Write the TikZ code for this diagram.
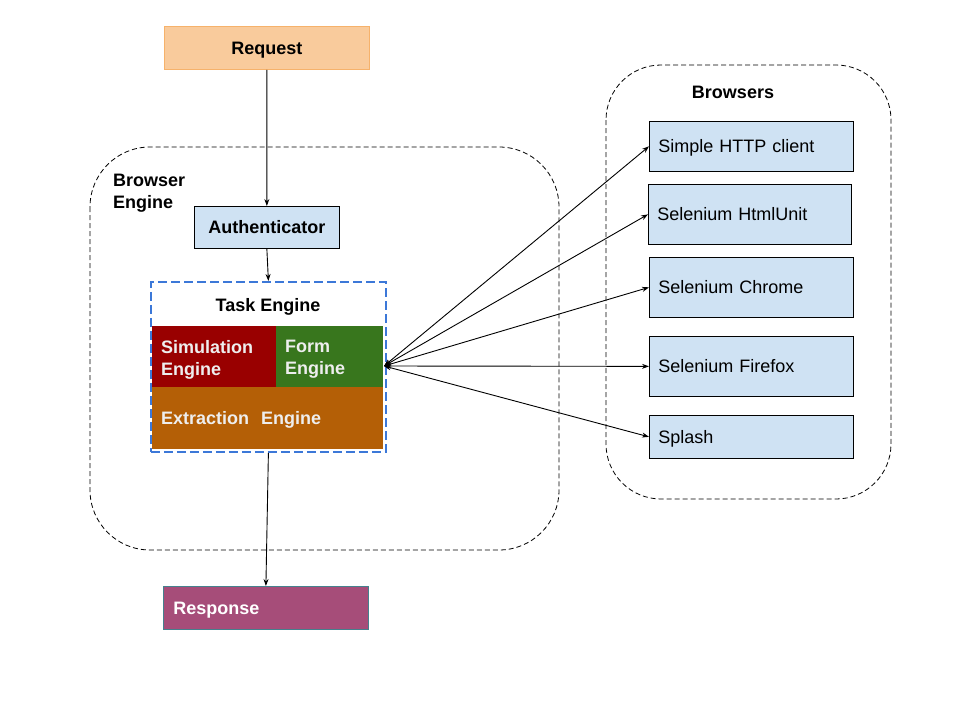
\documentclass[tikz,border=0pt]{standalone}
\usepackage{fontspec}
\setmainfont{Liberation Sans}
\usetikzlibrary{arrows.meta}
\definecolor{reqfill}{HTML}{F9CB9C}
\definecolor{reqline}{HTML}{F6B26B}
\definecolor{lblue}{HTML}{CFE2F3}
\definecolor{tblue}{HTML}{3C78D8}
\definecolor{simred}{HTML}{990000}
\definecolor{formgreen}{HTML}{38761D}
\definecolor{extorange}{HTML}{B45F06}
\definecolor{respfill}{HTML}{A64D79}
\definecolor{respline}{HTML}{45818E}
\definecolor{paletxt}{HTML}{EEEEEE}
\tikzset{
  x=1pt,y=-1pt,
  every node/.style={font=\fontsize{18}{22}\selectfont},
  boxbase/.style n args={2}{rectangle, anchor=north west, minimum width=#1, minimum height=#2, text width=#1-18pt, inner xsep=9pt, inner ysep=0pt, align=left, text depth=0pt},
  twoline/.style={text depth=20pt},
  bluebox/.style={fill=lblue, draw=black, line width=0.7pt},
  colbox/.style={draw=none, text=paletxt, font=\fontsize{18}{22}\selectfont\bfseries},
  group/.style={draw=black, dashed, dash pattern=on 5pt off 3pt, line width=0.8pt},
  conn/.style={line width=0.9pt, -{Stealth[length=7pt,width=5pt]}},
  biconn/.style={line width=0.9pt, {Stealth[length=7pt,width=5pt]}-{Stealth[length=7pt,width=5pt]}},
}
\begin{document}
\begin{tikzpicture}
\useasboundingbox (0,0) rectangle (960,720);
% groups
\draw[group, rounded corners=60pt] (90,147) rectangle (559,550);
\draw[group, rounded corners=55pt] (606,65) rectangle (891,499);
\node[anchor=north west, align=left, font=\fontsize{18}{22}\selectfont\bfseries, inner sep=0pt] (belabel) at (113,174) {Browser\\Engine};
\node[font=\fontsize{18}{22}\selectfont\bfseries, inner sep=0pt, text depth=0pt] (brlabel) at (733,92) {Browsers};
% request
\node[boxbase={205pt}{43pt}, fill=reqfill, draw=reqline, line width=0.8pt, align=center, font=\fontsize{18}{22}\selectfont\bfseries] (req) at (164,26) {Request};
% authenticator
\node[boxbase={145pt}{42pt}, bluebox, align=center, font=\fontsize{18}{22}\selectfont\bfseries] (auth) at (194,206) {Authenticator};
% task engine contents
\node[boxbase={124pt}{61pt}, colbox, fill=simred, twoline] (sim) at (152,326) {Simulation\\Engine};
\node[boxbase={107pt}{61pt}, colbox, fill=formgreen, twoline] (form) at (276,326) {Form\\Engine};
\node[boxbase={231pt}{62pt}, colbox, fill=extorange] (ext) at (152,387) {Extraction\ \ Engine};
\node[font=\fontsize{18}{22}\selectfont\bfseries, inner sep=0pt, text depth=0pt] (tasklabel) at (268,305) {Task Engine};
% task engine frame
\node[rectangle, anchor=north west, minimum width=235pt, minimum height=170pt, draw=tblue, dash pattern=on 9pt off 4pt, line width=1.8pt] (task) at (150,281) {};
% response
\node[boxbase={205pt}{43pt}, fill=respfill, draw=respline, line width=0.8pt, text=white, font=\fontsize{18}{22}\selectfont\bfseries, inner xsep=10pt, text width=185pt] (resp) at (163,586) {Response};
% browsers
\node[boxbase={204pt}{50pt}, bluebox] (b1) at (649,121) {Simple HTTP client};
\node[boxbase={203pt}{60pt}, bluebox] (b2) at (648,184) {Selenium HtmlUnit};
\node[boxbase={204pt}{60pt}, bluebox] (b3) at (649,257) {Selenium Chrome};
\node[boxbase={204pt}{60pt}, bluebox] (b4) at (649,336) {Selenium Firefox};
\node[boxbase={204pt}{43pt}, bluebox] (b5) at (649,415) {Splash};
% connectors
\coordinate (hub) at (384,366);
\draw[conn] (req.south) -- (auth.north);
\draw[conn] (auth.south) -- (task.north);
\draw[conn] (task.south) -- (resp.north);
\draw[biconn] (hub) -- (b1.west);
\draw[biconn] (hub) -- (b2.west);
\draw[biconn] (hub) -- (b3.west);
\draw[biconn] (hub) -- (b4.west);
\draw[biconn] (hub) -- (b5.west);
\end{tikzpicture}
\end{document}
